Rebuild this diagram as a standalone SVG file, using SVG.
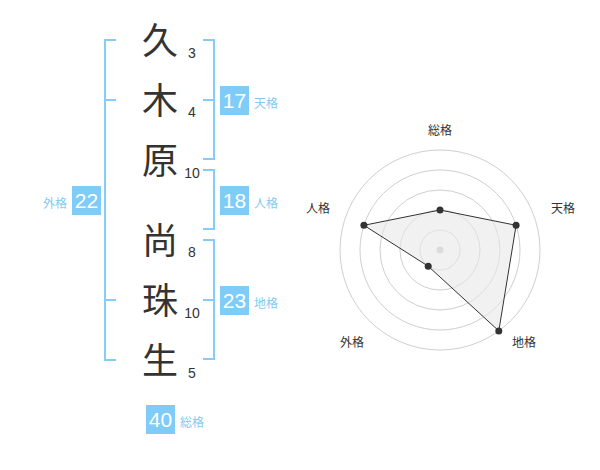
<svg xmlns="http://www.w3.org/2000/svg" width="600" height="470" viewBox="0 0 600 470">
<style>
.br{fill:none;stroke:#85cdf9;stroke-width:2}
.ch{font-family:"Noto Sans CJK JP","Noto Sans CJK SC",sans-serif;font-size:36px;fill:#333;text-anchor:middle}
.st{font-family:"Liberation Sans",Arial,sans-serif;font-size:14px;fill:#333;text-anchor:middle}
.box{fill:#80ccf9}
.num{font-family:"Liberation Sans",Arial,sans-serif;font-size:21px;fill:#fff;text-anchor:middle}
.lb{font-family:"Noto Sans CJK JP","Noto Sans CJK SC",sans-serif;font-size:12px;fill:#84c9f2}
.rl{font-family:"Noto Sans CJK JP","Noto Sans CJK SC",sans-serif;font-size:12px;fill:#333;text-anchor:middle}
.ring{fill:none;stroke:#cfcfcf;stroke-width:1}
.dot{fill:#333}
</style>
<rect width="600" height="470" fill="#fff"/>
<g id="connectors">
<path class="br" d="M116,40H105V360H116M105,100H116M105,300H116"/>
<path class="br" d="M203,40H214V159H203M203,100H214"/>
<path class="br" d="M203,170H214V229H203"/>
<path class="br" d="M203,240H214V359H203M203,300H214"/>
</g>
<g id="chars">
<text class="ch" x="160" y="54">久</text>
<text class="ch" x="160" y="114">木</text>
<text class="ch" x="160" y="174">原</text>
<text class="ch" x="160" y="254">尚</text>
<text class="ch" x="160" y="314">珠</text>
<text class="ch" x="160" y="374">生</text>
</g>
<g id="strokes">
<text class="st" x="192" y="58">3</text>
<text class="st" x="192" y="117">4</text>
<text class="st" x="192" y="178">10</text>
<text class="st" x="192" y="257">8</text>
<text class="st" x="192" y="318">10</text>
<text class="st" x="192" y="378">5</text>
</g>
<g id="tenkaku">
<rect class="box" x="220" y="86" width="29" height="29"/>
<text class="num" x="234.5" y="108">17</text>
<text class="lb" x="254" y="107.5">天格</text>
</g>
<g id="jinkaku">
<rect class="box" x="220" y="186" width="29" height="29"/>
<text class="num" x="234.5" y="208">18</text>
<text class="lb" x="254" y="207.5">人格</text>
</g>
<g id="chikaku">
<rect class="box" x="220" y="286" width="29" height="29"/>
<text class="num" x="234.5" y="308">23</text>
<text class="lb" x="254" y="307.5">地格</text>
</g>
<g id="gaikaku">
<rect class="box" x="72" y="186" width="29" height="29"/>
<text class="num" x="86.5" y="208">22</text>
<text class="lb" x="67" y="207.5" text-anchor="end">外格</text>
</g>
<g id="soukaku">
<rect class="box" x="146" y="405" width="29" height="29"/>
<text class="num" x="160.5" y="427">40</text>
<text class="lb" x="180" y="426.5">総格</text>
</g>
<g id="radar">
<circle class="ring" cx="440" cy="250" r="20"/>
<circle class="ring" cx="440" cy="250" r="40"/>
<circle class="ring" cx="440" cy="250" r="60"/>
<circle class="ring" cx="440" cy="250" r="80"/>
<circle class="ring" cx="440" cy="250" r="100"/>
<circle cx="440" cy="250" r="3.5" fill="#c8c8c8"/>
<polygon points="440,210 516.1,225.3 498.8,330.9 428.2,266.2 363.9,225.3" fill="#e8e8e8" fill-opacity="0.6" stroke="#333" stroke-width="1"/>
<circle class="dot" cx="440" cy="210" r="3.5"/>
<circle class="dot" cx="516.1" cy="225.3" r="3.5"/>
<circle class="dot" cx="498.8" cy="330.9" r="3.5"/>
<circle class="dot" cx="428.2" cy="266.2" r="3.5"/>
<circle class="dot" cx="363.9" cy="225.3" r="3.5"/>
<text class="rl" x="440" y="134.5">総格</text>
<text class="rl" x="563" y="212.5">天格</text>
<text class="rl" x="318" y="212.5">人格</text>
<text class="rl" x="352" y="346.5">外格</text>
<text class="rl" x="524" y="346.5">地格</text>
</g>
</svg>
